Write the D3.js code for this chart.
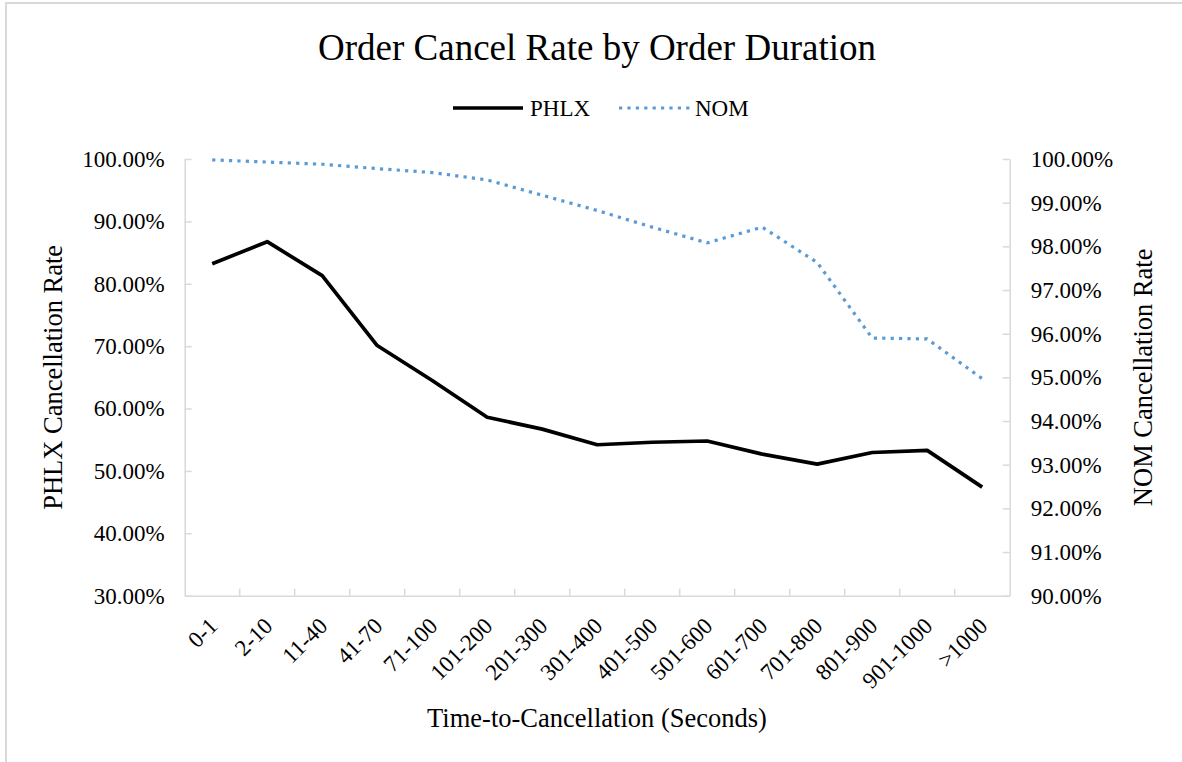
<!DOCTYPE html>
<html>
<head>
<meta charset="utf-8">
<script src="https://cdn.jsdelivr.net/npm/d3@7"></script>
<style>
  body { margin: 0; background: #fff; }
  svg text { font-family: "Liberation Serif", "Times New Roman", serif; fill: #000; }
  .axis path, .axis line { stroke: #d9d9d9; stroke-width: 1.5; }
</style>
</head>
<body>
<div id="chart"></div>
<script>
// chart data
var categories = ["0-1", "2-10", "11-40", "41-70", "71-100", "101-200", "201-300", "301-400",
  "401-500", "501-600", "601-700", "701-800", "801-900", "901-1000", ">1000"];
var phlxValues = [83.2, 86.75, 81.3, 70.1, 64.5, 58.6, 56.7, 54.2, 54.6, 54.8, 52.7, 51.1, 52.95, 53.3, 47.4];
var nomValues = [99.98, 99.93, 99.88, 99.78, 99.69, 99.52, 99.17, 98.82, 98.44, 98.08, 98.44, 97.63, 95.9, 95.88, 94.97];
var leftTicks = [30, 40, 50, 60, 70, 80, 90, 100];
var rightTicks = [90, 91, 92, 93, 94, 95, 96, 97, 98, 99, 100];

var svgWidth = 1182;
var svgHeight = 762;

var plot = { left: 184.7, right: 1009.7, top: 159, bottom: 595.7 };

var svg = d3.select("#chart")
  .append("svg")
  .attr("width", svgWidth)
  .attr("height", svgHeight);

// outer frame (only left/top edges are visible in the picture)
svg.append("rect")
  .attr("x", 6).attr("y", 3)
  .attr("width", svgWidth + 20).attr("height", svgHeight + 20)
  .attr("fill", "none")
  .attr("stroke", "#d9d9d9")
  .attr("stroke-width", 2);

// scales
var xBand = d3.scaleBand()
  .domain(categories)
  .range([plot.left, plot.right])
  .padding(0);

var yLeft = d3.scaleLinear()
  .domain([30, 100])
  .range([plot.bottom, plot.top]);

var yRight = d3.scaleLinear()
  .domain([90, 100])
  .range([plot.bottom, plot.top]);

var pct = function(d) { return d3.format(".2f")(d) + "%"; };

// left axis
var leftAxis = d3.axisLeft(yLeft)
  .tickValues(leftTicks)
  .tickSizeInner(-7)
  .tickSizeOuter(0)
  .tickPadding(20)
  .tickFormat(pct);

svg.append("g")
  .attr("class", "axis")
  .attr("transform", `translate(${plot.left},0)`)
  .call(leftAxis)
  .selectAll("text")
  .style("font-size", "23px");

// right axis
var rightAxis = d3.axisRight(yRight)
  .tickValues(rightTicks)
  .tickSizeInner(-7)
  .tickSizeOuter(0)
  .tickPadding(21)
  .tickFormat(pct);

svg.append("g")
  .attr("class", "axis")
  .attr("transform", `translate(${plot.right},0)`)
  .call(rightAxis)
  .selectAll("text")
  .style("font-size", "23px");

// bottom axis: labels at category centres, tick marks between categories
var bottomAxis = d3.axisBottom(xBand)
  .tickSize(0)
  .tickPadding(0)
  .tickFormat(function(d) { return d; });

var xAxis = svg.append("g")
  .attr("class", "axis")
  .attr("transform", `translate(0,${plot.bottom})`)
  .call(bottomAxis);

xAxis.selectAll(".tick text")
  .style("font-size", "23px")
  .attr("text-anchor", "end")
  .attr("dy", "0.35em")
  .attr("y", 0)
  .attr("transform", "translate(1,26) rotate(-45)");

xAxis.selectAll(".boundary")
  .data(categories.slice(1))
  .enter()
  .append("line")
  .attr("class", "boundary")
  .attr("x1", d => xBand(d))
  .attr("x2", d => xBand(d))
  .attr("y1", 0)
  .attr("y2", -7);

// lines
var phlxLine = d3.line()
  .x((d, i) => xBand(categories[i]) + xBand.bandwidth() / 2)
  .y(d => yLeft(d));

var nomLine = d3.line()
  .x((d, i) => xBand(categories[i]) + xBand.bandwidth() / 2)
  .y(d => yRight(d));

svg.append("path")
  .datum(nomValues)
  .attr("d", nomLine)
  .attr("fill", "none")
  .attr("stroke", "#5b9bd5")
  .attr("stroke-width", 3.2)
  .attr("stroke-dasharray", "3.2 5.2");

svg.append("path")
  .datum(phlxValues)
  .attr("d", phlxLine)
  .attr("fill", "none")
  .attr("stroke", "#000")
  .attr("stroke-width", 3.7)
  .attr("stroke-linejoin", "round");

// title
svg.append("text")
  .attr("x", 597)
  .attr("y", 60)
  .attr("text-anchor", "middle")
  .style("font-size", "37px")
  .text("Order Cancel Rate by Order Duration");

// legend
var legend = svg.append("g");
legend.append("line")
  .attr("x1", 453).attr("x2", 523)
  .attr("y1", 108).attr("y2", 108)
  .attr("stroke", "#000")
  .attr("stroke-width", 3.7);
legend.append("text")
  .attr("x", 530).attr("y", 116)
  .style("font-size", "23px")
  .text("PHLX");
legend.append("line")
  .attr("x1", 619).attr("x2", 690)
  .attr("y1", 108).attr("y2", 108)
  .attr("stroke", "#5b9bd5")
  .attr("stroke-width", 3.2)
  .attr("stroke-dasharray", "3.2 5.2");
legend.append("text")
  .attr("x", 695).attr("y", 116)
  .style("font-size", "23px")
  .text("NOM");

// axis titles
svg.append("text")
  .attr("transform", `translate(62,${(plot.top + plot.bottom) / 2}) rotate(-90)`)
  .attr("text-anchor", "middle")
  .style("font-size", "26.5px")
  .text("PHLX Cancellation Rate");

svg.append("text")
  .attr("transform", `translate(1152,${(plot.top + plot.bottom) / 2}) rotate(-90)`)
  .attr("text-anchor", "middle")
  .style("font-size", "26.5px")
  .text("NOM Cancellation Rate");

svg.append("text")
  .attr("x", 597)
  .attr("y", 727)
  .attr("text-anchor", "middle")
  .style("font-size", "26.5px")
  .text("Time-to-Cancellation (Seconds)");
</script>
</body>
</html>
